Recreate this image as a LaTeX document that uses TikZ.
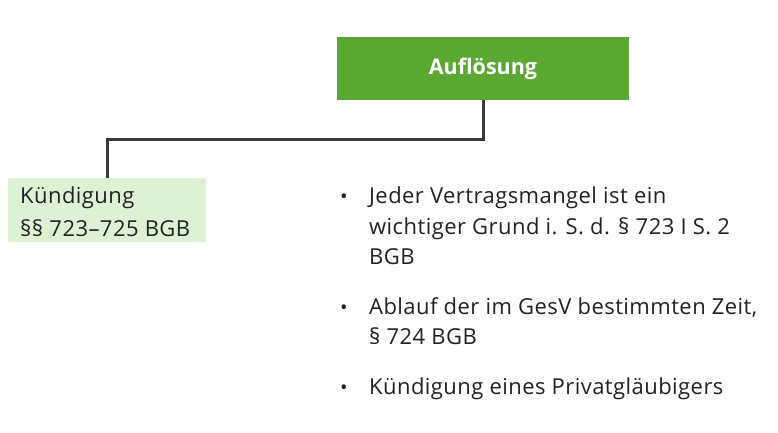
\documentclass[tikz,border=0pt]{standalone}
\usepackage{fontspec}
\setmainfont{Open Sans}[LetterSpace=2]
\newfontfamily\headfont{Open Sans}[BoldFont={* Bold}]
\definecolor{dgreen}{HTML}{5AA832}
\definecolor{lgreen}{HTML}{DDF2D4}
\definecolor{lineg}{HTML}{3A3A3A}
\definecolor{txt}{HTML}{222222}
\begin{document}
\begin{tikzpicture}[x=1pt,y=-1pt,
  topbox/.style={fill=dgreen,draw=none,minimum width=292pt,minimum height=63pt,inner sep=0pt,text=white,font=\headfont\fontsize{21.5}{24}\selectfont\bfseries},
  leftbox/.style={fill=lgreen,draw=none,minimum width=198pt,minimum height=64pt,inner sep=0pt},
  conn/.style={draw=lineg,line width=3pt},
  ln/.style={anchor=base west,inner sep=0pt,text=txt,font=\fontsize{22}{24}\selectfont},
  bul/.style={anchor=base,inner sep=0pt,text=txt,font=\fontsize{20}{24}\selectfont}]
\useasboundingbox (0,0) rectangle (778,433);
\node[topbox] (top) at (483,68.5) {Auflösung};
\node[leftbox] (left) at (107,210) {};
\node[ln] (l1) at (20,203) {Kündigung};
\node[ln] (l2) at (20,236) {§§ 723–725 BGB};
\coordinate (mid) at (483,139);
\draw[conn] (top.south) -- (mid) -| (left.north);
\node[bul] (b1) at (344,203) {•};
\node[ln] (i1a) at (369,203) {Jeder Vertragsmangel ist ein};
\node[ln] (i1b) at (369,234) {wichtiger Grund i. S. d. § 723 I S. 2};
\node[ln] (i1c) at (369,264) {BGB};
\node[bul] (b2) at (344,314) {•};
\node[ln] (i2a) at (369,314) {Ablauf der im GesV bestimmten Zeit,};
\node[ln] (i2b) at (369,344) {§ 724 BGB};
\node[bul] (b3) at (344,394) {•};
\node[ln] (i3) at (369,394) {Kündigung eines Privatgläubigers};
\end{tikzpicture}
\end{document}
